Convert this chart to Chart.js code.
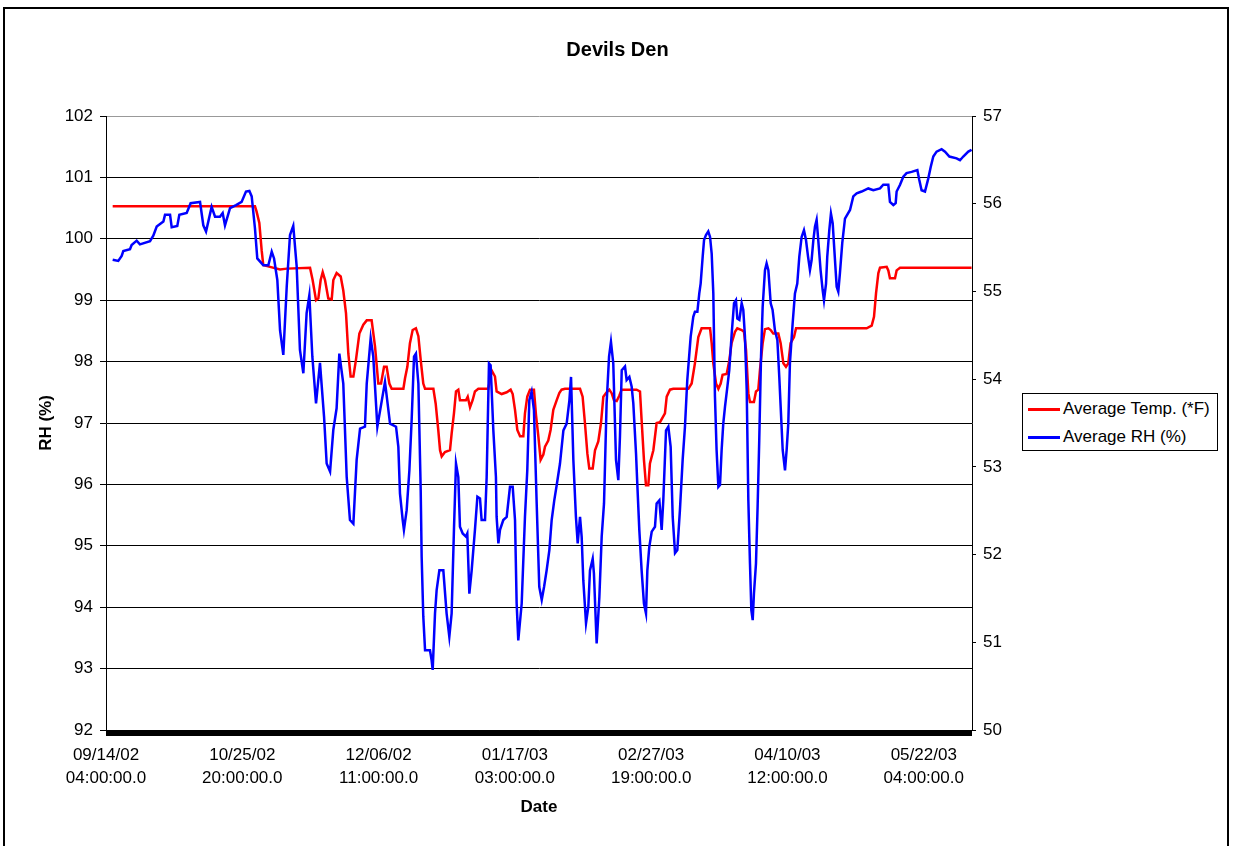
<!DOCTYPE html>
<html lang="en">
<head>
<meta charset="UTF-8">
<title>Devils Den</title>
<script src="https://cdn.jsdelivr.net/npm/chart.js"></script>
<style>
    html, body { margin: 0; padding: 0; background: #fff; }
    body { width: 1235px; height: 846px; position: relative; overflow: hidden; font-family: "Liberation Sans", Arial, sans-serif; }
    #frame { position: absolute; left: 3px; top: 7px; width: 1226px; height: 860px; border: 2px solid #000; box-sizing: border-box; }
    #myChart { position: absolute; left: 0; top: 0; }
    #legend { position: absolute; left: 1022px; top: 393px; width: 196px; height: 58px; border: 1px solid #000; box-sizing: border-box; background: #fff; padding-top: 1px; }
    #legend .row { height: 28px; display: flex; align-items: center; font-size: 17px; color: #000; white-space: nowrap; }
    #legend .swatch { display: inline-block; width: 32px; height: 3px; margin: 0 3px 0 5px; }
</style>
</head>
<body>
    <div id="frame"></div>
    <canvas id="myChart" width="1235" height="846"></canvas>
    <div id="legend"></div>

    <script>
        // x values are hours since 09/14/02 04:00 (hourly logger readings)
        const xTickLabels = [
            '09/14/02 04:00:00.0', '10/25/02 20:00:00.0', '12/06/02 11:00:00.0',
            '01/17/03 03:00:00.0', '02/27/03 19:00:00.0', '04/10/03 12:00:00.0',
            '05/22/03 04:00:00.0'
        ];

        // Average RH (%) - left axis
        const rhHours = [
            49, 90, 115, 127, 176, 188, 225, 249, 323, 347, 372, 421, 433, 470, 482, 523, 538, 592, 621, 690,
            714, 734, 775, 800, 836, 856, 873, 910, 954, 995, 1027, 1052, 1069, 1093, 1110, 1154, 1191, 1216, 1233, 1257,
            1277, 1301, 1326, 1350, 1374, 1399, 1423, 1448, 1472, 1492, 1514, 1541, 1570, 1600, 1619, 1644, 1668, 1692, 1712, 1741,
            1766, 1790, 1815, 1839, 1864, 1900, 1913, 1942, 1961, 1991, 2047, 2084, 2128,
            2145, 2157, 2177, 2186, 2206, 2226, 2243, 2260, 2274, 2292, 2309, 2316, 2328, 2341, 2377, 2389, 2397, 2414, 2426, 2446,
            2475, 2499, 2519, 2536, 2553, 2568, 2585, 2597, 2617, 2641, 2651, 2666, 2683, 2707, 2725, 2744, 2756, 2781, 2793, 2810,
            2822, 2842, 2861, 2866, 2879, 2891, 2915, 2940, 2964, 2984, 3001, 3013, 3025, 3050, 3062, 3074, 3091, 3106, 3123, 3140,
            3160, 3179, 3197, 3214, 3233, 3253, 3270, 3289, 3307, 3331, 3356, 3380, 3400, 3412, 3429, 3448, 3461, 3478, 3490, 3502,
            3522, 3539, 3551, 3571, 3580, 3600, 3620, 3637, 3654, 3673, 3691, 3705, 3722, 3742, 3759, 3771, 3784, 3808, 3820, 3840,
            3857, 3869, 3889, 3898, 3913, 3930, 3947, 3962, 3972, 3986, 4004, 4028, 4040, 4060, 4077, 4089, 4109, 4126, 4143, 4158,
            4175, 4192, 4211, 4231, 4248, 4265,
            4290, 4309, 4321, 4339, 4353, 4363, 4378, 4388, 4402, 4419, 4432, 4444, 4456, 4468, 4480, 4493, 4505, 4517, 4529, 4542,
            4559, 4573, 4591, 4608, 4622, 4632, 4647, 4664, 4676, 4688, 4701, 4713, 4725, 4735, 4745, 4754, 4769, 4781, 4793, 4806,
            4818, 4835, 4847, 4860, 4877, 4891, 4908, 4926, 4940, 4950, 4965, 4982, 4994, 5006, 5018, 5038, 5055, 5072, 5087, 5104,
            5121, 5136, 5151, 5165, 5177, 5190, 5202, 5214, 5226, 5243, 5258, 5268, 5283, 5292, 5307, 5319, 5332, 5344, 5361, 5373,
            5385, 5402, 5422, 5459, 5483, 5508, 5544, 5593, 5630, 5679, 5703, 5740, 5752, 5777, 5794, 5801, 5826, 5850, 5874, 5911,
            5953, 5967, 5984, 6009, 6033, 6051, 6070, 6094, 6131, 6156, 6188, 6241, 6266, 6290, 6327, 6351
        ];
        const rhValues = [
            99.66, 99.64, 99.72, 99.80, 99.83, 99.90, 99.97, 99.91, 99.96, 100.05, 100.20, 100.28, 100.39, 100.39, 100.19, 100.21, 100.39, 100.42, 100.58, 100.60,
            100.22, 100.12, 100.52, 100.36, 100.36, 100.42, 100.22, 100.50, 100.55, 100.60, 100.77, 100.78, 100.69, 100.17, 99.68, 99.57, 99.57, 99.79, 99.68, 99.33,
            98.51, 98.11, 99.22, 100.06, 100.21, 99.55, 98.19, 97.81, 98.79, 99.08, 98.08, 97.32, 97.98, 97.10, 96.34, 96.21, 96.89, 97.24, 98.13, 97.64,
            96.12, 95.42, 95.36, 96.40, 96.91, 96.94, 97.64, 98.38, 98.08, 96.94, 97.67, 96.99, 96.94,
            96.61, 95.85, 95.42, 95.26, 95.58, 96.23, 97.07, 98.08, 98.13, 97.64, 95.91, 94.82, 93.85, 93.30, 93.30, 93.14, 92.98, 93.90, 94.28, 94.60,
            94.60, 93.90, 93.52, 93.90, 95.26, 96.34, 96.12, 95.31, 95.20, 95.15, 95.20, 94.22, 94.60, 95.26, 95.80, 95.77, 95.42, 95.42, 96.12, 97.97,
            97.94, 96.88, 96.12, 95.47, 95.04, 95.26, 95.42, 95.47, 95.96, 95.96, 95.42, 94.06, 93.46, 94.06, 94.77, 95.47, 96.23, 97.37, 97.51, 97.21,
            95.69, 94.33, 94.12, 94.33, 94.60, 94.93, 95.42, 95.74, 95.99, 96.34, 96.88, 96.99, 97.37, 97.75, 96.40, 95.47, 95.04, 95.47, 95.15, 94.44,
            93.74, 94.01, 94.60, 94.79, 94.55, 93.41, 94.17, 95.15, 95.69, 97.32, 98.08, 98.32, 97.97, 96.40, 96.07, 96.78, 97.86, 97.92, 97.70, 97.75,
            97.59, 97.32, 96.50, 96.02, 95.26, 94.60, 94.06, 93.90, 94.60, 94.98, 95.23, 95.31, 95.69, 95.74, 95.26, 95.74, 96.88, 96.94, 96.61, 95.47,
            94.88, 94.93, 95.58, 96.40, 96.94, 97.70,
            98.41, 98.73, 98.81, 98.81, 99.11, 99.27, 99.71, 99.98, 100.06, 100.12, 100.03, 99.76, 99.11, 97.43, 96.56, 95.96, 95.99, 96.56, 96.99, 97.27,
            97.59, 97.86, 98.46, 98.95, 99.00, 98.70, 98.68, 98.95, 98.84, 98.41, 97.54, 95.74, 94.71, 93.95, 93.79, 94.22, 94.71, 95.64, 96.72, 98.08,
            98.89, 99.49, 99.60, 99.49, 98.95, 98.84, 98.51, 98.35, 97.75, 97.27, 96.56, 96.23, 96.56, 96.99, 97.97, 98.62, 99.11, 99.27, 99.71, 100.03,
            100.14, 99.98, 99.71, 99.49, 99.65, 99.98, 100.20, 100.31, 99.98, 99.49, 99.17, 99.00, 99.27, 99.71, 100.14, 100.41, 100.25, 99.82, 99.22, 99.14,
            99.44, 99.93, 100.33, 100.47, 100.69, 100.74, 100.77, 100.82, 100.79, 100.82, 100.88, 100.88, 100.60, 100.55, 100.58, 100.77, 100.88, 101.01, 101.07, 101.09,
            101.12, 100.96, 100.79, 100.77, 100.98, 101.17, 101.34, 101.42, 101.46, 101.42, 101.34, 101.31, 101.28, 101.34, 101.42, 101.45
        ];

        // Average Temp. (*F) - right axis
        const tempHours = [
            49, 1093, 1105, 1125, 1142, 1154, 1203, 1277, 1326, 1497, 1516, 1541, 1558, 1575, 1590, 1607, 1631, 1656, 1668, 1692,
            1722, 1741, 1761, 1778, 1795, 1815, 1834, 1859, 1888, 1913, 1949, 1974, 1998, 2018, 2040, 2059, 2079, 2096, 2182, 2194,
            2211, 2230, 2250, 2274, 2292, 2309, 2328, 2341, 2402, 2419, 2438, 2451, 2463, 2487, 2524, 2536, 2553, 2568, 2585, 2597,
            2641, 2654, 2671, 2690, 2707, 2732, 2805, 2830, 2854, 2866, 2903, 2940, 2969, 2984, 3001, 3018, 3038, 3062, 3074, 3091,
            3111, 3140, 3155, 3172, 3189, 3209, 3221, 3245, 3262, 3282, 3307, 3326, 3343, 3368, 3478, 3497, 3514, 3532, 3546, 3571,
            3588, 3612, 3632, 3649, 3673, 3693, 3710, 3727, 3747, 3766, 3783, 3893, 3918, 3930, 3947, 3962, 3979, 3991, 4016, 4040,
            4065, 4101, 4114, 4138, 4162, 4273, 4297, 4321, 4346, 4370, 4432, 4444, 4456, 4476, 4493, 4510, 4524, 4554, 4573, 4590,
            4615, 4632, 4664, 4681, 4696, 4713, 4725, 4754, 4769, 4786, 4798, 4818, 4835, 4860, 4877, 4896, 4933, 4950, 4970, 4989,
            5006, 5023, 5048, 5063, 5581, 5618, 5635, 5650, 5667, 5679, 5728, 5740, 5752, 5789, 5801, 5826, 6351
        ];
        const tempValues = [
            55.97, 55.97, 55.91, 55.78, 55.47, 55.30, 55.28, 55.25, 55.26, 55.27, 55.13, 54.90, 54.92, 55.13, 55.22, 55.13, 54.92, 54.91, 55.13, 55.21,
            55.17, 55.01, 54.75, 54.29, 54.03, 54.03, 54.22, 54.52, 54.62, 54.67, 54.67, 54.37, 53.95, 53.95, 54.14, 54.14, 53.95, 53.89, 53.89, 54.01,
            54.14, 54.41, 54.56, 54.58, 54.49, 54.22, 53.95, 53.89, 53.89, 53.72, 53.42, 53.19, 53.12, 53.17, 53.19, 53.38, 53.61, 53.86, 53.88, 53.76,
            53.76, 53.80, 53.68, 53.76, 53.86, 53.89, 53.89, 54.10, 54.03, 53.86, 53.83, 53.85, 53.88, 53.83, 53.65, 53.42, 53.35, 53.35, 53.61, 53.80,
            53.88, 53.88, 53.59, 53.35, 53.08, 53.14, 53.23, 53.30, 53.42, 53.65, 53.76, 53.84, 53.88, 53.89, 53.89, 53.80, 53.50, 53.15, 52.98, 52.98,
            53.19, 53.29, 53.50, 53.80, 53.85, 53.88, 53.84, 53.76, 53.75, 53.81, 53.88, 53.88, 53.86, 53.53, 53.08, 52.79, 52.79, 53.04, 53.19, 53.50,
            53.51, 53.61, 53.80, 53.88, 53.89, 53.89, 53.95, 54.18, 54.48, 54.58, 54.58, 54.41, 54.18, 53.95, 53.89, 53.95, 54.05, 54.06, 54.21, 54.41,
            54.54, 54.58, 54.56, 54.54, 54.33, 53.84, 53.74, 53.74, 53.86, 53.88, 54.10, 54.41, 54.57, 54.58, 54.56, 54.52, 54.52, 54.41, 54.18, 54.14,
            54.18, 54.41, 54.48, 54.58, 54.58, 54.61, 54.71, 54.98, 55.21, 55.27, 55.28, 55.24, 55.15, 55.15, 55.24, 55.27, 55.27
        ];

        const seriesLabels = ['Average Temp. (*F)', 'Average RH (%)'];
        const seriesColors = ['#ff0000', '#0000ff'];

        Chart.defaults.font.family = '"Liberation Sans", Arial, sans-serif';
        Chart.defaults.color = '#000';

        const toPoints = (xs, ys) => xs.map((x, i) => ({ x: x, y: ys[i] }));

        const ctx = document.getElementById('myChart').getContext('2d');
        const myChart = new Chart(ctx, {
            type: 'line',
            data: {
                datasets: [{
                    label: seriesLabels[0],
                    data: toPoints(tempHours, tempValues),
                    borderColor: seriesColors[0],
                    borderWidth: 2.5,
                    pointRadius: 0,
                    tension: 0,
                    yAxisID: 'y2',
                    order: 1
                }, {
                    label: seriesLabels[1],
                    data: toPoints(rhHours, rhValues),
                    borderColor: seriesColors[1],
                    borderWidth: 2.5,
                    pointRadius: 0,
                    tension: 0,
                    yAxisID: 'y',
                    order: 0
                }]
            },
            options: {
                responsive: false,
                animation: false,
                events: [],
                layout: { padding: { left: 36, right: 36, top: 14, bottom: 16 } },
                plugins: {
                    legend: { display: false },
                    tooltip: { enabled: false },
                    title: {
                        display: true,
                        text: 'Devils Den',
                        color: '#000',
                        font: { size: 20, weight: 'bold' },
                        padding: { top: 24, bottom: 54 }
                    }
                },
                scales: {
                    x: {
                        type: 'linear',
                        min: 0,
                        max: 6354,
                        afterBuildTicks: function(scale) {
                            // dense category ticks give the thick black axis bar
                            const ticks = [];
                            for (let h = 0; h <= 6350; h += 5) ticks.push({ value: h });
                            scale.ticks = ticks;
                        },
                        afterFit: function(scale) { scale.height = 100; },
                        ticks: {
                            autoSkip: false,
                            maxRotation: 0,
                            padding: 7.5,
                            font: { size: 17, lineHeight: 1.35 },
                            callback: function(value) {
                                if (value % 1000 !== 0) return '';
                                const lbl = xTickLabels[value / 1000];
                                return lbl ? lbl.split(' ') : '';
                            }
                        },
                        grid: { drawOnChartArea: false, tickLength: 6, color: '#000', lineWidth: 1 },
                        border: { color: '#000', width: 1 },
                        title: {
                            display: true,
                            text: 'Date',
                            font: { size: 17, weight: 'bold' },
                            padding: { top: 0, bottom: 12 }
                        }
                    },
                    y: {
                        position: 'left',
                        min: 92,
                        max: 102,
                        afterFit: function(scale) { scale.width = 70; },
                        ticks: { stepSize: 1, padding: 7, font: { size: 17 } },
                        grid: {
                            color: function(c) { return c.tick && c.tick.value === 102 ? '#999' : '#000'; },
                            tickColor: '#000',
                            tickLength: 6,
                            lineWidth: 1
                        },
                        border: { color: '#000', width: 1 },
                        title: {
                            display: true,
                            text: 'RH (%)',
                            font: { size: 17, weight: 'bold' },
                            padding: 0
                        }
                    },
                    y2: {
                        position: 'right',
                        min: 50,
                        max: 57,
                        afterFit: function(scale) { scale.width = 227; },
                        ticks: { stepSize: 1, padding: 7, font: { size: 17 } },
                        grid: { drawOnChartArea: false, tickLength: 4, color: '#000' },
                        border: { color: '#000', width: 1 }
                    }
                }
            }
        });

        // legend box built from the dataset labels and colours
        const legendEl = document.getElementById('legend');
        myChart.data.datasets.forEach(function(ds) {
            const row = document.createElement('div');
            row.className = 'row';
            const sw = document.createElement('span');
            sw.className = 'swatch';
            sw.style.background = ds.borderColor;
            row.appendChild(sw);
            row.appendChild(document.createTextNode(ds.label));
            legendEl.appendChild(row);
        });
    </script>
</body>
</html>
